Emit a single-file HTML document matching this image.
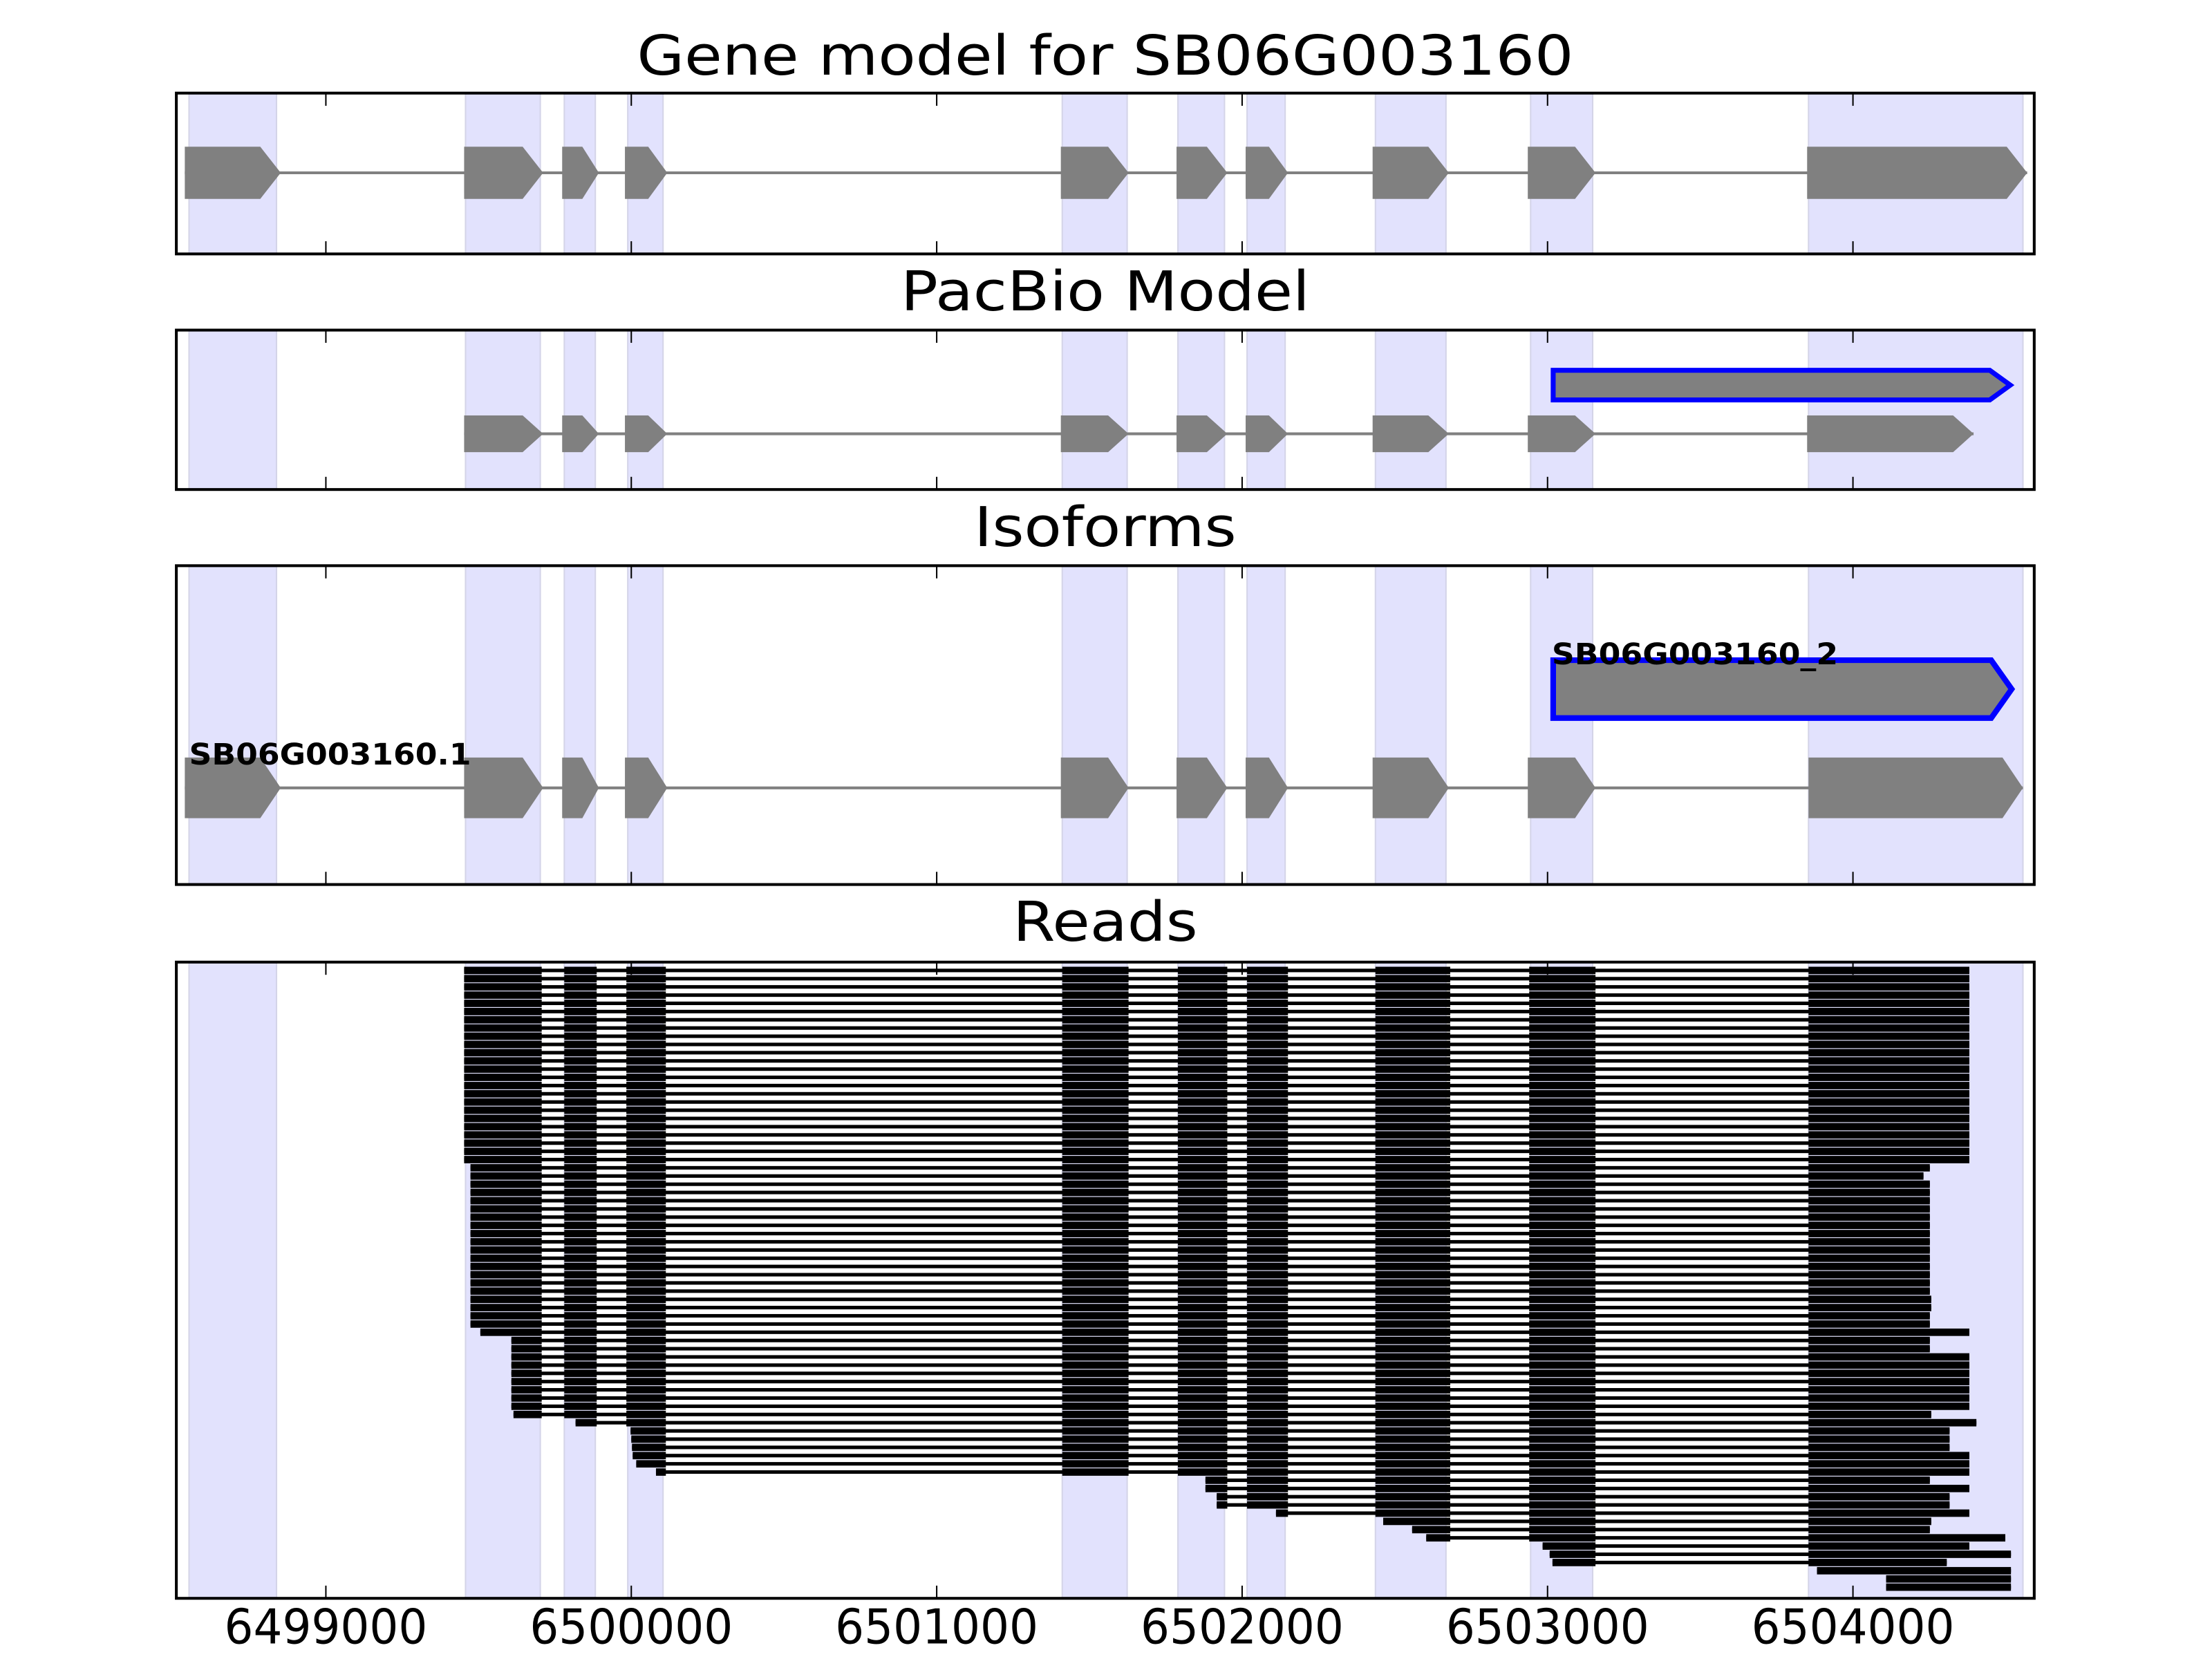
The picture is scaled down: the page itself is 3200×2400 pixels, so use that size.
<!DOCTYPE html>
<html><head><meta charset="utf-8">
<style>
html,body{margin:0;padding:0;background:#fff;}
svg{display:block;}
text{font-family:"DejaVu Sans","Liberation Sans",sans-serif;}
</style></head>
<body>
<svg id="s" xmlns="http://www.w3.org/2000/svg" width="3200" height="2400" viewBox="0 0 3200 2400">
<rect width="3200" height="2400" fill="#fff"/>
<g transform="scale(1.0204)">
<g id="shade"></g>
<g id="content"></g>
<g id="axes"></g>
<text x="1567" y="106" font-size="78" text-anchor="middle" textLength="1328" lengthAdjust="spacingAndGlyphs">Gene model for SB06G003160</text>
<text x="1567" y="440" font-size="78" text-anchor="middle" textLength="580" lengthAdjust="spacingAndGlyphs">PacBio Model</text>
<text x="1567" y="774" font-size="78" text-anchor="middle" textLength="372" lengthAdjust="spacingAndGlyphs">Isoforms</text>
<text x="1567" y="1334" font-size="78" text-anchor="middle" textLength="262" lengthAdjust="spacingAndGlyphs">Reads</text>
<text x="268" y="1084" font-size="42" font-weight="bold" textLength="400" lengthAdjust="spacingAndGlyphs">SB06G003160.1</text>
<text x="2200" y="942" font-size="42" font-weight="bold" textLength="406" lengthAdjust="spacingAndGlyphs">SB06G003160_2</text>
<text x="462" y="2330" font-size="68" text-anchor="middle" textLength="288" lengthAdjust="spacingAndGlyphs">6499000</text>
<text x="895" y="2330" font-size="68" text-anchor="middle" textLength="288" lengthAdjust="spacingAndGlyphs">6500000</text>
<text x="1328" y="2330" font-size="68" text-anchor="middle" textLength="288" lengthAdjust="spacingAndGlyphs">6501000</text>
<text x="1761" y="2330" font-size="68" text-anchor="middle" textLength="288" lengthAdjust="spacingAndGlyphs">6502000</text>
<text x="2194" y="2330" font-size="68" text-anchor="middle" textLength="288" lengthAdjust="spacingAndGlyphs">6503000</text>
<text x="2627" y="2330" font-size="68" text-anchor="middle" textLength="288" lengthAdjust="spacingAndGlyphs">6504000</text>
</g>
</svg>
<script>
(function(){
var NS="http://www.w3.org/2000/svg";
function el(p,t,a){var e=document.createElementNS(NS,t);for(var k in a)e.setAttribute(k,a[k]);p.appendChild(e);return e;}
var shade=document.getElementById('shade'),content=document.getElementById('content'),axes=document.getElementById('axes');
var L=250,R=2884;
var panels=[[132,360],[468,694],[802,1254],[1364,2266]];
var sh=[[268,392],[660,766],[800,844],[890,940],[1506,1598],[1670,1736],[1768,1822],[1950,2050],[2170,2258],[2564,2868]];
panels.forEach(function(p){
  sh.forEach(function(s){
    el(shade,'rect',{x:s[0],y:p[0],width:s[1]-s[0],height:p[1]-p[0],fill:'#e2e2fd',stroke:'#d4d4e8','stroke-width':2});
  });
});
var ticks=[462,895,1328,1761,2194,2627];
panels.forEach(function(p){
  el(axes,'rect',{x:L,y:p[0],width:R-L,height:p[1]-p[0],fill:'none',stroke:'#000','stroke-width':4});
  ticks.forEach(function(t){
    el(axes,'line',{x1:t,x2:t,y1:p[0],y2:p[0]+18,stroke:'#000','stroke-width':2});
    el(axes,'line',{x1:t,x2:t,y1:p[1],y2:p[1]-18,stroke:'#000','stroke-width':2});
  });
});
function arrow(g,x1,x2,yc,h,fill,stroke,sw){
  var w=x2-x1,tip=Math.min(29,w*0.45);
  var pts=[[x1,yc-h],[x2-tip,yc-h],[x2,yc],[x2-tip,yc+h],[x1,yc+h]].map(function(q){return q.join(',');}).join(' ');
  el(g,'polygon',{points:pts,fill:fill,stroke:stroke||'none','stroke-width':sw||0});
}
var gm=[[262,398],[658,770],[797,849],[886,946],[1504,1600],[1668,1740],[1766,1826],[1946,2054],[2166,2262],[2562,2874]];
function model(exons,yc,h){
  el(content,'line',{x1:exons[0][0],x2:exons[exons.length-1][1],y1:yc,y2:yc,stroke:'#808080','stroke-width':4});
  exons.forEach(function(e){arrow(content,e[0],e[1],yc,h,'#808080');});
}
model(gm,245,37);
var pb=gm.slice(1);pb[pb.length-1]=[2562,2798];
model(pb,615,26);
arrow(content,2202,2850,546,21,'#808080','#0000ff',7);
var iso=gm.slice();iso[iso.length-1]=[2564,2868];
model(iso,1117,43);
arrow(content,2202,2852,977,41,'#808080','#0000ff',8);
var ex=[[658,768],[800,846],[888,944],[1506,1600],[1670,1740],[1768,1826],[1950,2056],[2168,2262],[2564,3000]];
var st=[],en=[],i;
for(i=0;i<76;i++){st[i]=0;en[i]=0;}
for(i=0;i<=23;i++){st[i]=658;en[i]=2792;}
for(i=24;i<=43;i++){st[i]=667;en[i]=2736;}
en[24]=2736;en[25]=2727;en[40]=2738;en[41]=2738;
st[44]=681;en[44]=2792;
for(i=45;i<=53;i++){st[i]=725;}
en[45]=2736;en[46]=2736;for(i=47;i<=53;i++)en[i]=2792;
st[54]=728;en[54]=2738;
st[55]=816;en[55]=2802;
st[56]=894;st[57]=895;st[58]=896;st[59]=897;st[60]=902;
en[56]=2764;en[57]=2764;en[58]=2764;en[59]=2792;en[60]=2792;
st[61]=930;en[61]=2792;
st[62]=1709;en[62]=2736;
st[63]=1709;en[63]=2792;
st[64]=1725;en[64]=2764;st[65]=1725;en[65]=2764;
st[66]=1809;en[66]=2792;
st[67]=1961;en[67]=2738;
st[68]=2002;en[68]=2736;
st[69]=2022;en[69]=2843;
st[70]=2187;en[70]=2792;
st[71]=2197;en[71]=2851;
st[72]=2201;en[72]=2760;
st[73]=2576;en[73]=2851;
st[74]=2674;en[74]=2851;st[75]=2674;en[75]=2851;
var y0=1370,pitch=886/76,bh=10.5,lh=5;
for(i=0;i<76;i++){
  var yc=y0+pitch*i+pitch/2;
  el(content,'rect',{x:st[i],y:yc-lh/2,width:en[i]-st[i],height:lh,fill:'#000'});
  ex.forEach(function(e){
    var a=Math.max(e[0],st[i]),b=Math.min(e[1],en[i]);
    if(b>a) el(content,'rect',{x:a,y:yc-bh/2,width:b-a,height:bh,fill:'#000'});
  });
}
})();
</script>
</body></html>
